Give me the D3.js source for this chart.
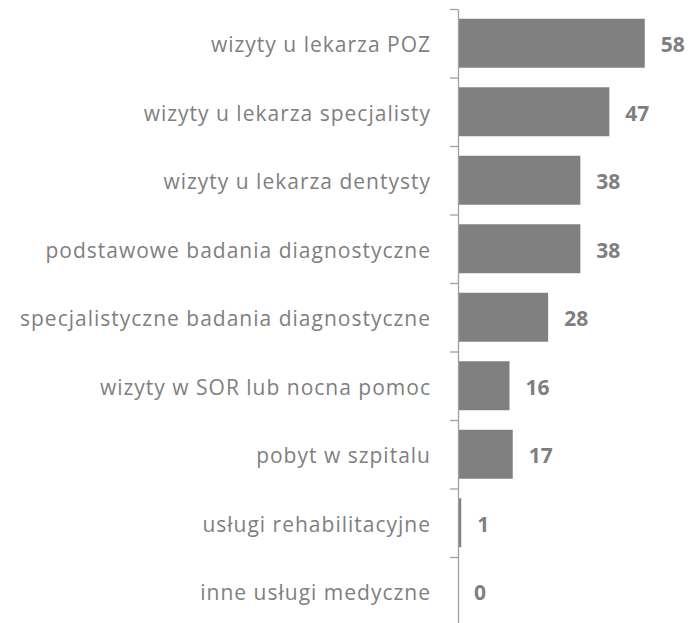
<!DOCTYPE html>
<html>
<head>
<meta charset="utf-8">
<script src="https://cdn.jsdelivr.net/npm/d3@7"></script>
<style>
  body { margin: 0; background: #fff; }
  text { font-family: "Open Sans", sans-serif; }
</style>
</head>
<body>
<script>
var categories = [
  "wizyty u lekarza POZ",
  "wizyty u lekarza specjalisty",
  "wizyty u lekarza dentysty",
  "podstawowe badania diagnostyczne",
  "specjalistyczne badania diagnostyczne",
  "wizyty w SOR lub nocna pomoc",
  "pobyt w szpitalu",
  "usługi rehabilitacyjne",
  "inne usługi medyczne"
];
var values = [58, 47, 38, 38, 28, 16, 17, 1, 0];

var width = 698, height = 623;
var axisX = 458;

var svg = d3.select("body").append("svg")
  .attr("width", width)
  .attr("height", height);

var y = d3.scaleBand()
  .domain(categories)
  .range([9, 9 + 9 * 68.5])
  .paddingInner(0.285)
  .paddingOuter(0.1425);

var x = d3.scaleLinear().domain([0, 60]).range([axisX, axisX + 60 * 3.22]);

// boundary ticks of the category axis
var yIdx = d3.scaleLinear().domain([0, categories.length]).range(y.range());

svg.selectAll("rect.bar")
  .data(values)
  .enter().append("rect")
    .attr("class", "bar")
    .attr("x", x(0))
    .attr("y", (d, i) => y(categories[i]))
    .attr("width", d => x(d) - x(0))
    .attr("height", y.bandwidth())
    .attr("fill", "#808080");

var axis = svg.append("g")
  .attr("transform", "translate(" + axisX + ",0)")
  .call(d3.axisLeft(yIdx)
    .tickValues(d3.range(0, categories.length + 1))
    .tickSize(8)
    .tickSizeOuter(0)
    .tickFormat(""));
axis.selectAll("line, path").attr("stroke", "#a0a0a0").attr("stroke-width", 1.3);

svg.selectAll("text.cat")
  .data(categories)
  .enter().append("text")
    .attr("class", "cat")
    .attr("x", axisX - 27)
    .attr("y", d => y(d) + y.bandwidth() / 2 + 1.5)
    .attr("dy", "0.35em")
    .attr("text-anchor", "end")
    .attr("font-size", 21)
    .attr("letter-spacing", 1)
    .attr("fill", "#7f7f7f")
    .text(d => d);

svg.selectAll("text.val")
  .data(values)
  .enter().append("text")
    .attr("class", "val")
    .attr("x", d => x(d) + 16)
    .attr("y", (d, i) => y(categories[i]) + y.bandwidth() / 2 + 1.5)
    .attr("dy", "0.35em")
    .attr("font-size", 21)
    .attr("font-weight", "bold")
    .attr("fill", "#7f7f7f")
    .text(d => d);
</script>
</body>
</html>
